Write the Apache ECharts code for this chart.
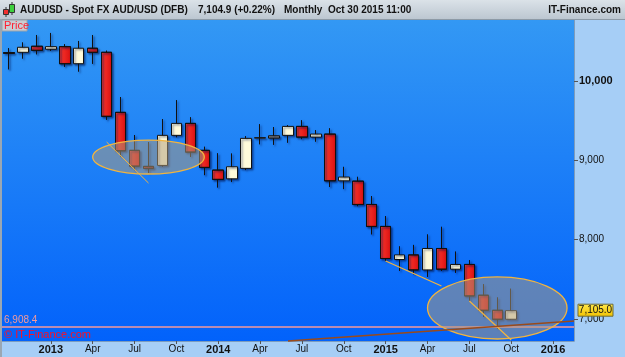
<!DOCTYPE html>
<html><head><meta charset="utf-8">
<script src="https://cdn.jsdelivr.net/npm/echarts@6/dist/echarts.min.js"></script>
<style>html,body{margin:0;padding:0;background:#a6cef6;overflow:hidden}#c{width:625px;height:357px}</style>
</head><body><div id="c"></div>
<script>
// ---- data ----
const months = ['Oct 2012','Nov 2012','Dec 2012','Jan 2013','Feb 2013','Mar 2013','Apr 2013','May 2013','Jun 2013','Jul 2013','Aug 2013','Sep 2013','Oct 2013','Nov 2013','Dec 2013','Jan 2014','Feb 2014','Mar 2014','Apr 2014','May 2014','Jun 2014','Jul 2014','Aug 2014','Sep 2014','Oct 2014','Nov 2014','Dec 2014','Jan 2015','Feb 2015','Mar 2015','Apr 2015','May 2015','Jun 2015','Jul 2015','Aug 2015','Sep 2015','Oct 2015','Nov 2015','Dec 2015','Jan 2016','Feb 2016'];
const opens  = [10357,10362,10438,10400,10433,10218,10413,10362,9605,9126,8924,8936,9315,9466,9126,8877,8767,8899,9280,9280,9315,9428,9293,9331,8742,8738,8444,8167,7750,7808,7619,7889,7628,7688,7300,7110,6997];
const closes = [10350,10425,10387,10433,10218,10413,10362,9555,9120,8927,8899,9315,9466,9104,8911,8760,8919,9277,9286,9310,9428,9293,9331,8742,8789,8444,8167,7763,7808,7619,7889,7628,7688,7291,7110,6997,7105];
const lows   = [10148,10281,10337,10379,10180,10117,10218,9512,9050,8877,8843,8919,9290,9045,8814,8659,8726,8877,9201,9195,9221,9268,9234,8666,8637,8423,8068,7733,7606,7565,7530,7606,7581,7227,7026,6880,6990];
const highs  = [10413,10488,10580,10606,10463,10505,10580,10382,9798,9319,9230,9521,9760,9542,9171,9088,9088,9306,9457,9420,9445,9504,9382,9403,8919,8792,8549,8297,7918,7934,8068,8162,7852,7741,7438,7271,7384];
const yTickValues = [7000, 8000, 9000, 10000];
const monthTickNames = ['Apr','Jul','Oct'];
const refLevel = 6908.4;
const lastPrice = 7105.0;
// annotations in data units: [monthIndex, value]
const ellipse1 = {c:[10.0, 9042], rMonths:4.0, rValue:214};
const ellipse2 = {c:[35.03, 7139], rMonths:5.02, rValue:391};
const annLines = [
  {from:[7.03, 9231], to:[9.97, 8714], color:'#f2b441', w:1},
  {from:[27.03, 7731], to:[31.04, 7416], color:'#f2b441', w:1.2},
  {from:[33.05, 7227], to:[35.77, 6735], color:'#f2b441', w:1.2},
  {from:[20.22, 6723], to:[40.5, 6975], color:'#9a4a1a', w:1.5}
];

const candleData = opens.map((o,i)=>{
  const item = {value:[o, closes[i], lows[i], highs[i]]};
  if (months[i]==='May 2014') item.itemStyle = {color:'#8c8c8c', color0:'#8c8c8c'};
  return item;
});

const fmt = v => v.toLocaleString('en-US');
const chart = echarts.init(document.getElementById('c'), null, {renderer:'canvas'});
const FONT = '"Liberation Sans", Arial, Helvetica, sans-serif';

const option = {
  animation:false,
  backgroundColor:'#a6cef6',
  textStyle:{fontFamily:FONT},
  grid:{left:2, right:51, top:20, bottom:16, show:true, borderWidth:0,
    backgroundColor:{type:'linear',x:0,y:0,x2:0,y2:1,colorStops:[{offset:0,color:'#3398f4'},{offset:1,color:'#0262fb'}]}},
  xAxis:{type:'category', data:months, boundaryGap:true,
    axisLine:{show:true, lineStyle:{color:'#7d9cbc', width:1}},
    axisTick:{show:true, alignWithLabel:true, length:3, interval:(i)=> i>=3 && i%3===0, lineStyle:{color:'#555'}},
    axisLabel:{interval:(i)=> i>=3 && i%3===0, margin:3, color:'#111',
      formatter:(v)=>{const p=v.split(' '); if(p[0]==='Jan') return '{y|'+p[1]+'}'; if(monthTickNames.includes(p[0])) return '{m|'+p[0]+'}'; return '';},
      rich:{y:{fontWeight:'bold', fontSize:11, color:'#111', fontFamily:FONT}, m:{fontSize:10, color:'#111', fontFamily:FONT}}},
    splitLine:{show:false}},
  yAxis:{type:'value', position:'right', min:6723, max:10769, scale:true,
    axisLine:{show:true, lineStyle:{color:'#7d9cbc'}},
    axisTick:{show:true, length:4, customValues:yTickValues, lineStyle:{color:'#555'}},
    axisLabel:{margin:5, customValues:yTickValues, color:'#111',
      formatter:(v)=> v===10000 ? '{b|'+fmt(v)+'}' : '{n|'+fmt(v)+'}',
      rich:{b:{fontWeight:'bold', fontSize:11, color:'#111', fontFamily:FONT}, n:{fontSize:10, color:'#111', fontFamily:FONT}}},
    splitLine:{show:false}},
  series:[{
    type:'candlestick', data:candleData, barWidth:11,
    itemStyle:{
      color:'#fffbda', color0:{type:'linear',x:0,y:0,x2:1,y2:0,colorStops:[{offset:0,color:'#ff3a30'},{offset:1,color:'#d81010'}]},
      borderColor:'#111', borderColor0:'#111', borderWidth:1,
      shadowColor:'rgba(0,20,80,0.55)', shadowBlur:2, shadowOffsetX:1.5, shadowOffsetY:1.5
    },
    markLine:{silent:true, symbol:'none', label:{show:false}, lineStyle:{color:'#f49a9a', width:1.5, type:'solid'},
      data:[{yAxis:refLevel}]}
  }]
};
chart.setOption(option);

function px(p){ return chart.convertToPixel({xAxisIndex:0, yAxisIndex:0}, p); }
const g = [];
// frame pieces
g.push({type:'rect', shape:{x:0,y:0,width:625,height:19}, style:{fill:{type:'linear',x:0,y:0,x2:0,y2:1,colorStops:[{offset:0,color:'#dbe2e8'},{offset:1,color:'#bcc7d1'}]}}, z:50});
g.push({type:'rect', shape:{x:0,y:19,width:625,height:1}, style:{fill:'#8d9aa6'}, z:51});
g.push({type:'rect', shape:{x:0,y:19,width:2,height:338}, style:{fill:'#9aa7b3'}, z:51});
// icon
g.push({type:'line', shape:{x1:6,y1:7,x2:6,y2:17}, style:{stroke:'#333',lineWidth:1}, z:52});
g.push({type:'rect', shape:{x:3.5,y:9.5,width:5,height:5}, style:{fill:'#f23030',stroke:'#333',lineWidth:1}, z:53});
g.push({type:'line', shape:{x1:12,y1:2,x2:12,y2:15}, style:{stroke:'#333',lineWidth:1}, z:52});
g.push({type:'rect', shape:{x:9.5,y:4.5,width:5,height:8}, style:{fill:'#3ed03e',stroke:'#333',lineWidth:1}, z:53});
// title texts
const tStyle = {fill:'#111', font:'bold 10px '+FONT, textVerticalAlign:'middle'};
g.push({type:'text', x:20, y:10, style:Object.assign({text:'AUDUSD - Spot FX AUD/USD (DFB)'}, tStyle), z:55});
g.push({type:'text', x:198, y:10, style:Object.assign({text:'7,104.9 (+0.22%)'}, tStyle), z:55});
g.push({type:'text', x:284, y:10, style:Object.assign({text:'Monthly  Oct 30 2015 11:00'}, tStyle), z:55});
g.push({type:'text', x:621, y:10, style:Object.assign({text:'IT-Finance.com', textAlign:'right'}, tStyle), z:55});
// Price box
g.push({type:'rect', shape:{x:2,y:20,width:25,height:11}, style:{fill:'#c9cdd2',stroke:'#9aa3ab',lineWidth:1}, z:55});
g.push({type:'text', x:4, y:25.5, style:{text:'Price', fill:'#ff1e30', font:'11px '+FONT, textVerticalAlign:'middle'}, z:56});
// ellipses
[ellipse1, ellipse2].forEach(e=>{
  const c = px(e.c), rx = px([e.c[0]+e.rMonths, e.c[1]])[0]-c[0], ry = c[1]-px([e.c[0], e.c[1]+e.rValue])[1];
  g.push({type:'ellipse', shape:{cx:c[0], cy:c[1], rx:rx, ry:ry}, style:{fill:'rgba(175,155,125,0.52)', stroke:'#f0b440', lineWidth:1.3}, z:20});
});
// lines
annLines.forEach(l=>{
  const a = px(l.from), b = px(l.to);
  g.push({type:'line', shape:{x1:a[0],y1:a[1],x2:Math.min(b[0],574),y2:b[1]}, style:{stroke:l.color, lineWidth:l.w}, z:21});
});
// ref level text + copyright
const ry = px([0, refLevel])[1];
g.push({type:'text', x:4, y:ry-6, style:{text:fmt(refLevel), fill:'#f49a9a', font:'10px '+FONT, textVerticalAlign:'middle'}, z:70});
g.push({type:'text', x:4, y:ry+9, style:{text:'© IT-Finance.com', fill:'#ff1020', font:'11px '+FONT, textVerticalAlign:'middle'}, z:70});
// last price label
const ly = px([0, lastPrice])[1];
g.push({type:'rect', shape:{x:578, y:ly-6.5, width:35, height:12}, style:{fill:{type:'linear',x:0,y:0,x2:0,y2:1,colorStops:[{offset:0,color:'#ffe84a'},{offset:1,color:'#f2c200'}]}, stroke:'#6b6b3a', lineWidth:1}, z:60});
g.push({type:'text', x:595.5, y:ly-0.5, style:{text:lastPrice.toLocaleString('en-US',{minimumFractionDigits:1}), fill:'#111', font:'10px '+FONT, textAlign:'center', textVerticalAlign:'middle'}, z:61});
chart.setOption({graphic:g});
</script></body></html>
